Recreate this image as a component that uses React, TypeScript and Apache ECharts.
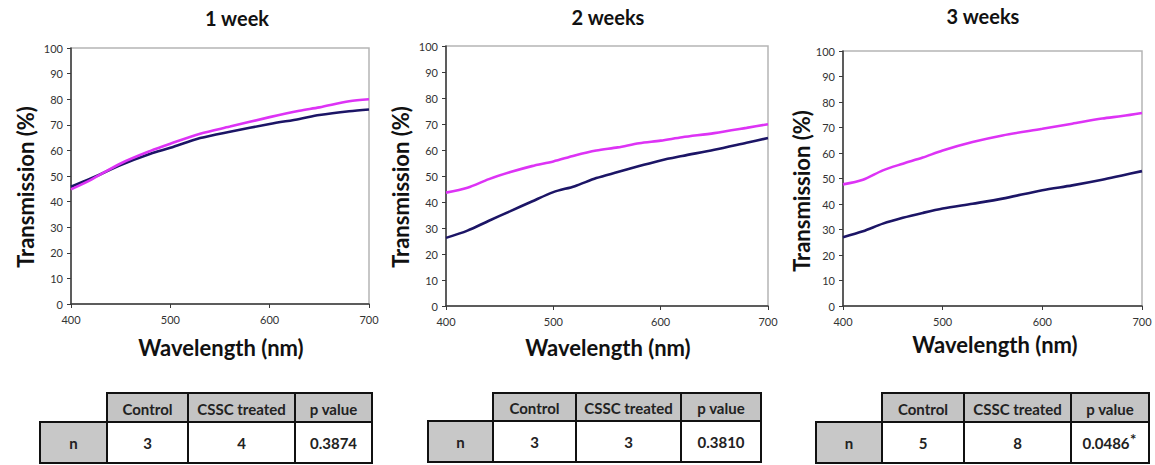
import React, { useEffect, useRef } from "react";
import * as echarts from "echarts";

// ---- Data ----
const panelTitles = ["1 week", "2 weeks", "3 weeks"];
const xTitle = "Wavelength (nm)";
const yTitle = "Transmission (%)";
const xTicks = [400, 500, 600, 700];

const wl1 = [400, 420, 450, 480, 500, 530, 560, 600, 630, 650, 680, 700];
const control1 = [45.8, 49, 54.3, 58.7, 61, 64.8, 67.3, 70.3, 72.3, 73.8, 75.3, 76];
const treated1 = [44.8, 48.5, 54.9, 59.8, 62.6, 66.5, 69.3, 73, 75.5, 76.8, 79.2, 80];

const wl2 = [400, 420, 440, 460, 480, 500, 520, 540, 560, 580, 600, 620, 650, 680, 700];
const control2 = [26.2, 29, 32.8, 36.5, 40.2, 43.8, 46.1, 49.2, 51.5, 53.8, 56, 57.7, 60.1, 62.8, 64.6];
const treated2 = [43.6, 45.5, 48.8, 51.5, 53.8, 55.6, 57.9, 59.8, 61, 62.6, 63.6, 64.9, 66.5, 68.5, 69.9];

const wl3 = [400, 420, 440, 460, 480, 500, 530, 560, 600, 630, 660, 680, 700];
const control3 = [27, 29.3, 32.3, 34.6, 36.5, 38.2, 40.1, 42.1, 45.4, 47.3, 49.5, 51.2, 52.9];
const treated3 = [47.7, 49.5, 53.2, 55.8, 58.2, 61, 64.3, 66.9, 69.5, 71.5, 73.5, 74.5, 75.7];

const tableHeaders = ["Control", "CSSC treated", "p value"];
const rowLabel = "n";
const nControl = ["3", "3", "5"];
const nTreated = ["4", "3", "8"];
const pValues = ["0.3874", "0.3810", "0.0486*"];

// ---- Layout ----
const FONT = "Lato, 'Open Sans', sans-serif";
const grids = [
  { left: 71, top: 48, width: 298, height: 256 },
  { left: 446, top: 46, width: 322, height: 260 },
  { left: 843, top: 51, width: 299, height: 255 },
];
const titlePos = [
  [237, 18],
  [608, 17],
  [983, 16],
];
const xTitlePos = [
  [221, 347],
  [608, 347],
  [995, 344],
];
const yTitlePos = [
  [25, 187],
  [400, 187],
  [801, 191],
];
const tableLayout = [
  { nX: 40, cols: [107, 188, 295, 372], top: 393, mid: 422, bottom: 463 },
  { nX: 428, cols: [493, 576, 681, 761], top: 393, mid: 421, bottom: 462 },
  { nX: 816, cols: [882, 964, 1071, 1149], top: 393, mid: 422, bottom: 463 },
];

const MAGENTA = "#dd33f5";
const NAVY = "#1c1566";
const HEAD_FONT = `bold 15px ${FONT}`;
const VAL_FONT = `bold 15px ${FONT}`;

function pairs(xs: number[], ys: number[]) {
  return xs.map((x, i) => [x, ys[i]]);
}

function measure(text: string, font: string) {
  const cv = document.createElement("canvas");
  const ctx = cv.getContext("2d");
  if (!ctx) return text.length * 8;
  ctx.font = font;
  return ctx.measureText(text).width;
}

function buildTable(i: number) {
  const L = tableLayout[i];
  const els: any[] = [];
  const border = { stroke: "#111", lineWidth: 2 };
  for (let c = 0; c < 3; c++) {
    const x0 = L.cols[c];
    const x1 = L.cols[c + 1];
    els.push({
      type: "rect",
      shape: { x: x0, y: L.top, width: x1 - x0, height: L.mid - L.top },
      style: { fill: "#c4c4c4", ...border },
    });
    els.push({
      type: "text",
      x: (x0 + x1) / 2,
      y: (L.top + L.mid) / 2 + 1,
      style: {
        text: tableHeaders[c],
        font: HEAD_FONT,
        fill: "#222",
        align: "center",
        verticalAlign: "middle",
      },
    });
  }
  els.push({
    type: "rect",
    shape: { x: L.nX, y: L.mid, width: L.cols[0] - L.nX, height: L.bottom - L.mid },
    style: { fill: "#c8c8c8", ...border },
  });
  els.push({
    type: "text",
    x: (L.nX + L.cols[0]) / 2,
    y: (L.mid + L.bottom) / 2,
    style: {
      text: rowLabel,
      font: VAL_FONT,
      fill: "#222",
      align: "center",
      verticalAlign: "middle",
    },
  });
  const vals = [nControl[i], nTreated[i], pValues[i]];
  for (let c = 0; c < 3; c++) {
    const x0 = L.cols[c];
    const x1 = L.cols[c + 1];
    els.push({
      type: "rect",
      shape: { x: x0, y: L.mid, width: x1 - x0, height: L.bottom - L.mid },
      style: { fill: "#fff", ...border },
    });
    let v = vals[c];
    const star = v.endsWith("*");
    if (star) v = v.slice(0, -1);
    const w = measure(v, VAL_FONT);
    const cx = (x0 + x1) / 2 - (star ? 4 : 0);
    els.push({
      type: "text",
      x: cx,
      y: (L.mid + L.bottom) / 2,
      style: {
        text: v,
        font: VAL_FONT,
        fill: "#222",
        align: "center",
        verticalAlign: "middle",
      },
    });
    if (star) {
      els.push({
        type: "text",
        x: cx + w / 2 + 0.5,
        y: (L.mid + L.bottom) / 2 - 4,
        style: {
          text: "*",
          font: `bold 15px ${FONT}`,
          fill: "#222",
          align: "left",
          verticalAlign: "middle",
        },
      });
    }
  }
  return els;
}

export default function App() {
  const ref = useRef<HTMLDivElement>(null);
  useEffect(() => {
    document.body.style.margin = "0";
    if (!ref.current) return;
    const chart = echarts.init(ref.current, null, { renderer: "svg" });
    const series = [
      [wl1, control1, treated1],
      [wl2, control2, treated2],
      [wl3, control3, treated3],
    ].flatMap(([wl, ctrl, trt], i) => [
      {
        type: "line",
        name: "Control",
        xAxisIndex: i,
        yAxisIndex: i,
        data: pairs(wl as number[], ctrl as number[]),
        showSymbol: false,
        smooth: 0.3,
        lineStyle: { color: NAVY, width: 2.6 },
        itemStyle: { color: NAVY },
        z: 3,
      },
      {
        type: "line",
        name: "CSSC treated",
        xAxisIndex: i,
        yAxisIndex: i,
        data: pairs(wl as number[], trt as number[]),
        showSymbol: false,
        smooth: 0.3,
        lineStyle: { color: MAGENTA, width: 2.6 },
        itemStyle: { color: MAGENTA },
        z: 4,
      },
    ]);

    const graphic: any[] = [];
    for (let i = 0; i < 3; i++) {
      graphic.push({
        type: "text",
        x: titlePos[i][0],
        y: titlePos[i][1],
        style: {
          text: panelTitles[i],
          font: `bold 20px ${FONT}`,
          fill: "#111",
          align: "center",
          verticalAlign: "middle",
        },
      });
      graphic.push({
        type: "text",
        x: xTitlePos[i][0],
        y: xTitlePos[i][1],
        style: {
          text: xTitle,
          font: `bold 22px ${FONT}`,
          fill: "#111",
          align: "center",
          verticalAlign: "middle",
        },
      });
      graphic.push({
        type: "text",
        x: yTitlePos[i][0],
        y: yTitlePos[i][1],
        rotation: Math.PI / 2,
        style: {
          text: yTitle,
          font: `bold 22px ${FONT}`,
          fill: "#111",
          align: "center",
          verticalAlign: "middle",
        },
      });
      graphic.push(...buildTable(i));
    }

    chart.setOption({
      animation: false,
      backgroundColor: "#fff",
      grid: grids.map((g) => ({
        ...g,
        show: true,
        borderColor: "#b5b5b5",
        borderWidth: 1.5,
        backgroundColor: "transparent",
        containLabel: false,
      })),
      xAxis: grids.map((_, i) => ({
        type: "value",
        gridIndex: i,
        min: xTicks[0],
        max: xTicks[xTicks.length - 1],
        interval: 100,
        axisLine: { show: true, onZero: false, lineStyle: { color: "#3a3a3a", width: 1.5 } },
        axisTick: { show: true, length: 4, lineStyle: { color: "#3a3a3a" } },
        axisLabel: { fontSize: 11, color: "#333", margin: 10, fontFamily: FONT },
        splitLine: { show: false },
      })),
      yAxis: grids.map((_, i) => ({
        type: "value",
        gridIndex: i,
        min: 0,
        max: 100,
        interval: 10,
        axisLine: { show: true, onZero: false, lineStyle: { color: "#3a3a3a", width: 1.5 } },
        axisTick: { show: true, length: 4, lineStyle: { color: "#3a3a3a" } },
        axisLabel: { fontSize: 11, color: "#333", margin: 8, fontFamily: FONT },
        splitLine: { show: false },
      })),
      series,
      graphic,
    });
    return () => chart.dispose();
  }, []);
  return (
    <div
      ref={ref}
      style={{ position: "absolute", left: 0, top: 0, width: 1155, height: 465 }}
    />
  );
}
